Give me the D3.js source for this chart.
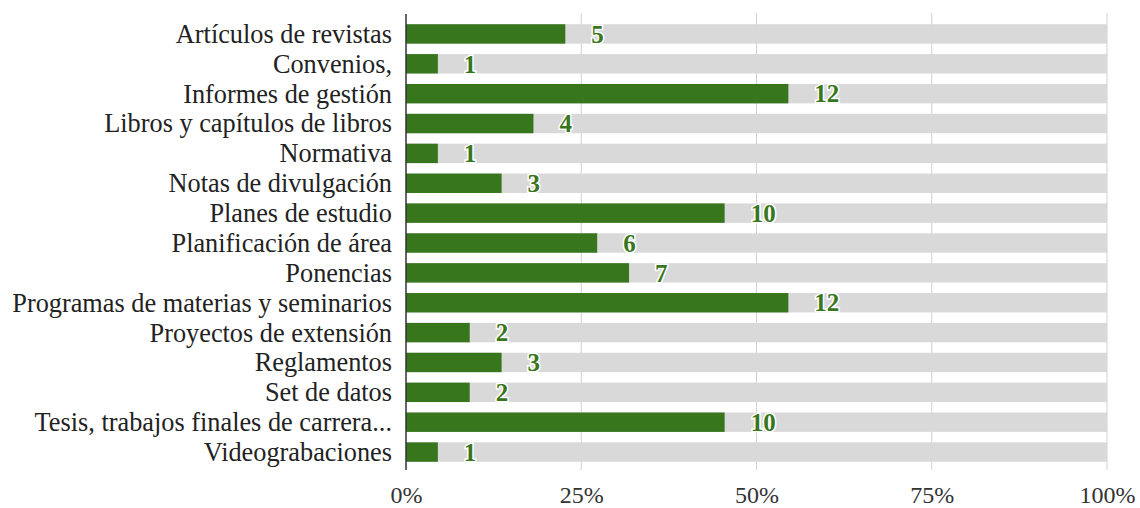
<!DOCTYPE html>
<html>
<head>
<meta charset="utf-8">
<script src="https://cdn.jsdelivr.net/npm/d3@7"></script>
<style>
  body { margin: 0; background: #fff; }
  text { font-family: "Liberation Serif", "Times New Roman", serif; }
</style>
</head>
<body>
<svg width="1140" height="508"></svg>
<script>
var categories = ["Artículos de revistas", "Convenios,", "Informes de gestión",
  "Libros y capítulos de libros", "Normativa", "Notas de divulgación",
  "Planes de estudio", "Planificación de área", "Ponencias",
  "Programas de materias y seminarios", "Proyectos de extensión",
  "Reglamentos", "Set de datos", "Tesis, trabajos finales de carrera...",
  "Videograbaciones"]
var values = [5, 1, 12, 4, 1, 3, 10, 6, 7, 12, 2, 3, 2, 10, 1]
var scaleMax = 22
var tickLabels = ["0%", "25%", "50%", "75%", "100%"]

var svg = d3.select("svg")
var left = 406, right = 1107

var xScale = d3.scaleLinear().domain([0, scaleMax]).range([left, right])
var yScale = d3.scaleBand().domain(categories).range([19, 467]).paddingInner(0.35).paddingOuter(0.175)

var ticks = tickLabels.map(function(d, i){ return scaleMax * i / 4; })

// gridlines
svg.append("g").selectAll("line")
   .data(ticks.slice(1))
   .enter()
   .append("line")
   .attr("x1", function(d){ return xScale(d); })
   .attr("x2", function(d){ return xScale(d); })
   .attr("y1", 13).attr("y2", 470)
   .attr("stroke", "#d0d0d0").attr("stroke-width", 1)

// background bars
svg.append("g").selectAll("rect")
   .data(categories)
   .enter()
   .append("rect")
   .attr("x", xScale(0))
   .attr("y", function(d){ return yScale(d); })
   .attr("width", xScale(scaleMax) - xScale(0))
   .attr("height", yScale.bandwidth())
   .attr("fill", "#d9d9d9")

// value bars
svg.append("g").selectAll("rect")
   .data(values)
   .enter()
   .append("rect")
   .attr("x", xScale(0))
   .attr("y", function(d, i){ return yScale(categories[i]); })
   .attr("width", function(d){ return xScale(d) - xScale(0); })
   .attr("height", yScale.bandwidth())
   .attr("fill", "#38761d")

// value labels
svg.append("g").selectAll("text")
   .data(values)
   .enter()
   .append("text")
   .attr("x", function(d){ return xScale(d) + 26; })
   .attr("y", function(d, i){ return yScale(categories[i]) + yScale.bandwidth() / 2; })
   .attr("dy", "0.35em")
   .style("font-size", "25px")
   .style("font-weight", "bold")
   .attr("fill", "#38761d")
   .attr("stroke", "#fff").attr("stroke-width", 3).attr("paint-order", "stroke")
   .text(function(d){ return d; })

// category labels
var yAxis = d3.axisLeft(yScale).tickSize(0).tickPadding(14)
var gy = svg.append("g").attr("transform", "translate(" + left + ",0)").call(yAxis)
gy.select(".domain").remove()
gy.selectAll("text").style("font-size", "26.3px").attr("fill", "#222").attr("dy", "0.34em")
svg.append("line")
   .attr("x1", left).attr("x2", left).attr("y1", 14).attr("y2", 470)
   .attr("stroke", "#333").attr("stroke-width", 1.5)

// x tick labels
var xAxis = d3.axisBottom(xScale).tickValues(ticks).tickSize(0).tickPadding(0)
  .tickFormat(function(d, i){ return tickLabels[i]; })
var gx = svg.append("g").attr("transform", "translate(0,486)").call(xAxis)
gx.select(".domain").remove()
gx.selectAll("text").style("font-size", "24px").attr("fill", "#333")
</script>
</body>
</html>
